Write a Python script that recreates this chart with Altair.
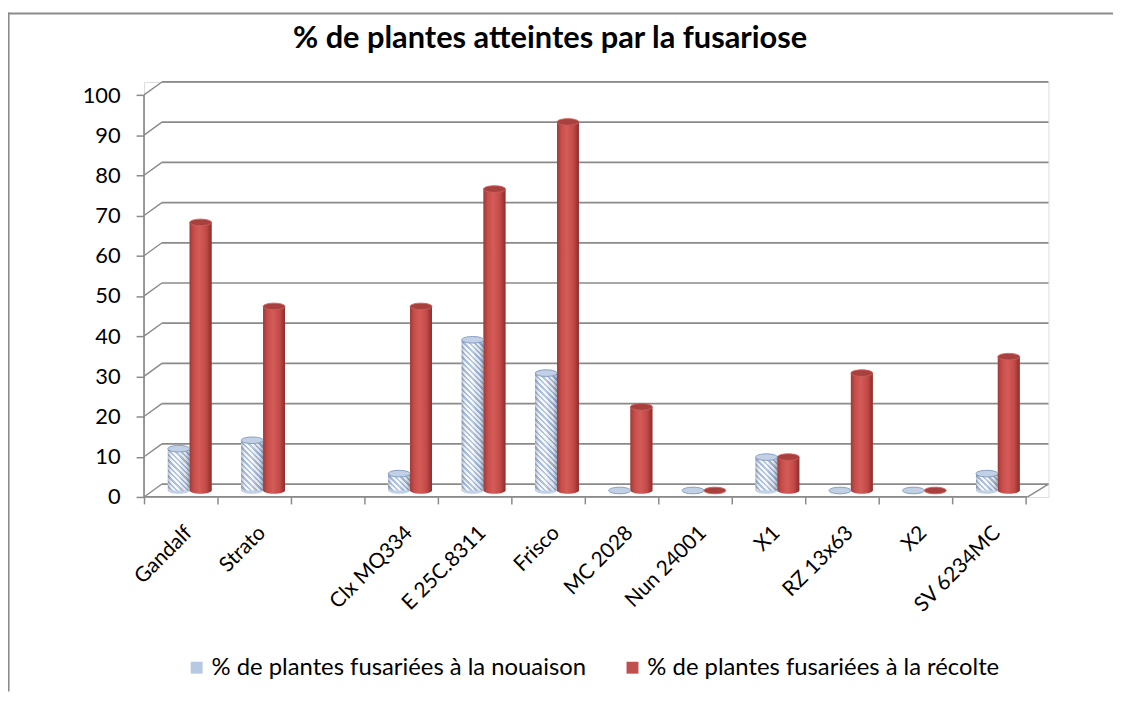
import altair as alt

# ---------------- data ----------------
categories = ["Gandalf", "Strato", " ", "Clx MQ334", "E 25C.8311", "Frisco",
              "MC 2028", "Nun 24001", "X1", "RZ 13x63", "X2", "SV 6234MC"]
nouaison = [10.4, 12.5, None, 4.2, 37.5, 29.2, 0, 0, 8.3, 0, 0, 4.2]
recolte = [66.7, 45.8, None, 45.8, 75.0, 91.7, 20.8, 0, 8.3, 29.2, 0, 33.3]
series_names = ["% de plantes fusariées à la nouaison",
                "% de plantes fusariées à la récolte"]
y_ticks = list(range(0, 101, 10))
title_text = "% de plantes atteintes par la fusariose"

# ---------------- layout / style ----------------
W, H = 911, 418
BAR_DOMAIN = [-1.606, 101.65]
AXIS_DOMAIN = [0, 103.28]
GRID_DOMAIN = [-3.21, 100]
PX = H / (BAR_DOMAIN[1] - BAR_DOMAIN[0])
BAR_W = 22
FONT = "Lato"
GRID_COLOR = "#8A8A8A"
ELLIPSE = "M-1,0A1,0.3,0,1,1,1,0A1,0.3,0,1,1,-1,0Z"


def hatch(value):
    h = max(value * PX, 1.0)
    w = BAR_W
    n = max(2, round((w + h) / 5.5))
    c = (w + h) / (w * w + h * h)
    light, dark = "#F4F7FB", "#A3B8D7"
    stops = []
    for i in range(n):
        a, b, e = i / n, (i + 0.55) / n, (i + 1) / n
        stops += [{"offset": a, "color": light}, {"offset": b, "color": light},
                  {"offset": b, "color": dark}, {"offset": e, "color": dark}]
    return {"gradient": "linear", "x1": 0, "y1": 1, "x2": c * w, "y2": 1 - c * h,
            "stops": stops}


red_grad = alt.LinearGradient(gradient="linear", x1=0, y1=0, x2=1, y2=0, stops=[
    alt.GradientStop(offset=0, color="#A03A37"),
    alt.GradientStop(offset=0.2, color="#C84E4B"),
    alt.GradientStop(offset=0.45, color="#D35B58"),
    alt.GradientStop(offset=0.75, color="#C44A47"),
    alt.GradientStop(offset=1, color="#8A2E2C"),
])
blue_shade = alt.LinearGradient(gradient="linear", x1=0, y1=0, x2=1, y2=0, stops=[
    alt.GradientStop(offset=0, color="rgba(60,80,115,0.38)"),
    alt.GradientStop(offset=0.25, color="rgba(255,255,255,0.05)"),
    alt.GradientStop(offset=0.5, color="rgba(255,255,255,0.25)"),
    alt.GradientStop(offset=0.8, color="rgba(60,80,115,0.10)"),
    alt.GradientStop(offset=1, color="rgba(50,65,100,0.42)"),
])

blue_rows = [{"cat": c, "v": v, "series": series_names[0],
              "grad": hatch(v) if v else None, "z": 0}
             for c, v in zip(categories, nouaison) if v is not None]
red_rows = [{"cat": c, "v": v, "series": series_names[1], "z": 0}
            for c, v in zip(categories, recolte) if v is not None]
tick_rows = [{"v": t, "vf": t - 3.21} for t in y_ticks]
one_row = [{"lo": 0, "hi": 100, "title": title_text}]

blue_data = alt.Data(values=blue_rows)
red_data = alt.Data(values=red_rows)
tick_data = alt.Data(values=tick_rows)
one_data = alt.Data(values=one_row)

x_enc = alt.X(
    "cat:N",
    scale=alt.Scale(domain=categories, paddingInner=0, paddingOuter=0.1554, align=0),
    axis=alt.Axis(labelAngle=-45, labelFont=FONT, labelFontSize=21, labelColor="black",
                  tickBand="extent", tickColor=GRID_COLOR, tickSize=7, tickWidth=1.5,
                  domain=False, grid=False, labelPadding=18, title=None),
    title=None,
)
bar_scale = alt.Scale(domain=BAR_DOMAIN, zero=False, nice=False)
grid_scale = alt.Scale(domain=GRID_DOMAIN, zero=False, nice=False)
axis_scale = alt.Scale(domain=AXIS_DOMAIN, zero=False, nice=False)


def yb(field="v:Q"):
    return alt.Y(field, scale=bar_scale, axis=None)


def legend(x):
    return alt.Legend(orient="none", legendX=x, legendY=578, title=None,
                      symbolType="square", symbolSize=144, labelFont=FONT,
                      labelFontSize=24, labelColor="black", labelOffset=3,
                      labelLimit=700)


# chart title (placed as a text mark so it sits exactly where the reference has it)
title_mark = alt.Chart(one_data).mark_text(
    font=FONT, fontSize=31, fontWeight="bold", color="black",
    align="center", baseline="alphabetic").encode(
    text="title:N", x=alt.value(409), y=alt.value(-34))
# chart-area frame (top and left edges visible in the reference)
frame_top = alt.Chart(one_data).mark_rule(color="#8C8C8C", strokeWidth=2).encode(
    x=alt.value(-137), x2=alt.value(976), y=alt.value(-69))
frame_left = alt.Chart(one_data).mark_rule(color="#8C8C8C", strokeWidth=1.6).encode(
    x=alt.value(-136.2), y=alt.value(-70), y2=alt.value(614))
# back-wall gridlines
grid = alt.Chart(tick_data).mark_rule(color=GRID_COLOR, strokeWidth=1.7).encode(
    x=alt.value(18), x2=alt.value(W),
    y=alt.Y("v:Q", scale=grid_scale, axis=None))
# side-wall diagonals
diag = alt.Chart(tick_data).mark_rule(color=GRID_COLOR, strokeWidth=1.4).encode(
    x=alt.value(0), x2=alt.value(18),
    y=alt.Y("vf:Q", scale=grid_scale, axis=None), y2="v:Q")
# floor front edge and right edge
floor_front = alt.Chart(one_data).mark_rule(color=GRID_COLOR, strokeWidth=1.7).encode(
    x=alt.value(0), x2=alt.value(890), y=alt.value(H))
floor_right = alt.Chart(one_data).mark_rule(color=GRID_COLOR, strokeWidth=1.4).encode(
    x=alt.value(890), x2=alt.value(W), y=alt.value(H), y2=alt.value(H - 13))
# y axis (front-left edge)
yaxis = alt.Chart(one_data).mark_rule(color=GRID_COLOR, strokeWidth=1.7).encode(
    x=alt.value(0),
    y=alt.Y("lo:Q", scale=axis_scale,
            axis=alt.Axis(values=y_ticks, domain=False, grid=False, tickColor=GRID_COLOR,
                          tickSize=8, tickWidth=1.5, labelFont=FONT, labelFontSize=22,
                          labelColor="black", labelPadding=16, title=None)),
    y2="hi:Q")

# base bars carrying the legends
blue_base = alt.Chart(blue_data).transform_filter("datum.v > 0").mark_bar(
    width=BAR_W, xOffset=-2).encode(
    x=x_enc, y=yb(),
    color=alt.Color("series:N",
                    scale=alt.Scale(domain=[series_names[0]], range=["#B7C9E2"]),
                    legend=legend(41)))
red_base = alt.Chart(red_data).transform_filter("datum.v > 0").mark_bar(
    width=BAR_W, xOffset=20).encode(
    x=x_enc, y=yb(),
    color=alt.Color("series:N",
                    scale=alt.Scale(domain=[series_names[1]], range=["#C0504D"]),
                    legend=legend(480)))

# bottom ellipses
blue_bottom = alt.Chart(blue_data).transform_filter("datum.v > 0").mark_point(
    shape=ELLIPSE, size=BAR_W * BAR_W, filled=True, fill="#C3D1E6", strokeWidth=0,
    opacity=1, xOffset=-2).encode(x=x_enc, y=yb("z:Q"))
red_bottom = alt.Chart(red_data).transform_filter("datum.v > 0").mark_point(
    shape=ELLIPSE, size=BAR_W * BAR_W, filled=True, fill=red_grad, strokeWidth=0,
    opacity=1, xOffset=20).encode(x=x_enc, y=yb("z:Q"))

# cylinder bodies
blue_hatch = alt.Chart(blue_data).transform_filter("datum.v > 0").mark_bar(
    width=BAR_W, xOffset=-2).encode(
    x=x_enc, y=yb(), fill=alt.Fill("grad:N", scale=None, legend=None))
blue_shadow = alt.Chart(blue_data).transform_filter("datum.v > 0").mark_bar(
    width=BAR_W, xOffset=-2, fill=blue_shade).encode(x=x_enc, y=yb())
red_body = alt.Chart(red_data).transform_filter("datum.v > 0").mark_bar(
    width=BAR_W, xOffset=20, fill=red_grad).encode(x=x_enc, y=yb())

# top ellipses (also the flat discs of zero values)
blue_top = alt.Chart(blue_data).mark_point(
    shape=ELLIPSE, size=BAR_W * BAR_W, filled=True, fill="#C2D0E6", stroke="#7F96BA",
    strokeWidth=0.9, opacity=1, xOffset=-2).encode(x=x_enc, y=yb())
red_top = alt.Chart(red_data).mark_point(
    shape=ELLIPSE, size=BAR_W * BAR_W, filled=True, fill="#A8403D", stroke="#CC605D",
    strokeWidth=0.9, opacity=1, xOffset=20).encode(x=x_enc, y=yb())

chart = alt.layer(
    title_mark, frame_top, frame_left, grid, diag, floor_front, floor_right, yaxis,
    blue_base, red_base, blue_bottom, red_bottom,
    blue_hatch, blue_shadow, red_body, blue_top, red_top,
).resolve_scale(y="independent", color="independent").properties(
    width=W, height=H,
    padding={"left": 137, "top": 72, "right": 65, "bottom": 196},
    autosize=alt.AutoSizeParams(type="none"),
).configure_view(stroke=None).configure(background="white")

chart.save("out.html", embed_options={"renderer": "svg", "actions": False})
